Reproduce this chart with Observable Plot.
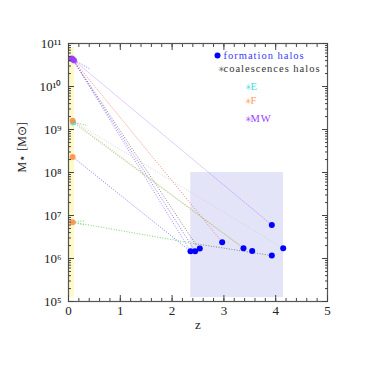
<!DOCTYPE html>
<html><head><meta charset="utf-8">
<script src="https://cdn.jsdelivr.net/npm/d3@7"></script>
<script src="https://cdn.jsdelivr.net/npm/@observablehq/plot@0.6"></script>
<style>
body{margin:0;background:#fff}
#chart{position:relative;width:369px;height:369px}
#chart svg text{font-family:"Liberation Serif",serif}
</style>
</head><body><div id="chart"></div>
<script>
// formation halos (high z)
const formZ = [2.355, 2.445, 2.535, 2.967, 3.378, 3.546, 3.925, 3.925, 4.145];
const formM = [1.48e6, 1.48e6, 1.7e6, 2.4e6, 1.74e6, 1.5e6, 6.0e6, 1.17e6, 1.74e6];
// present-day hosts (low z)
const hostZ = [0.05, 0.07, 0.09, 0.11, 0.09, 0.08, 0.08, 0.08];
const hostM = [4.4e10, 4.5e10, 4.2e10, 4.0e10, 1.45e9, 1.6e9, 2.3e8, 7.0e6];
const hostKind = ["MW", "MW", "MW", "MW", "E", "F", "F", "F"];
// dotted connecting paths
const segZ1 = [0.08, 0.08, 0.08, 0.08, 0.08, 0.08, 0.09, 0.08, 0.08, 0.08, 2.45, 2.45, 0.08, 0.08, 0.08, 0.08];
const segM1 = [4.3e10, 4.3e10, 4.3e10, 4.3e10, 4.3e10, 1.6e9, 1.45e9, 1.6e9, 2.3e8, 7.0e6, 2.2e6, 2.2e6, 7.0e6, 7.0e6, 1.5e9, 4.3e10];
const segZ2 = [3.925, 2.967, 2.45, 2.355, 2.445, 3.378, 3.378, 4.145, 2.355, 2.45, 3.925, 2.535, 0.32, 0.30, 0.35, 0.4];
const segM2 = [6.0e6, 2.4e6, 2.2e6, 1.48e6, 1.48e6, 1.74e6, 1.74e6, 1.74e6, 1.48e6, 2.2e6, 1.17e6, 1.7e6, 7.6e6, 6.0e6, 1.25e9, 2.6e10];
const segKind = ["purple", "red", "gray", "purple", "violet", "orange", "green", "light", "blue", "green", "gray", "gray", "green", "green", "green", "violet"];
// shaded regions
const stripZ = [0, 0.115];
const stripM = [1.23e5, 8e10];
const boxZ = [2.36, 4.15];
const boxM = [1.23e5, 1e8];
// axes
const xMajor = [0, 1, 2, 3, 4, 5];
const xMinor = d3.range(0, 5.001, 0.2);
const yMajor = [1e5, 1e6, 1e7, 1e8, 1e9, 1e10, 1e11];
const sup = {"5":"⁵","6":"⁶","7":"⁷","8":"⁸","9":"⁹","10":"¹⁰","11":"¹¹"};
const yMinor = [];
for (let e = 5; e < 11; e++) for (let k = 2; k <= 9; k++) yMinor.push(k * 10 ** e);
// legend entries
const legendText = ["formation halos", "coalescences halos", "E", "F", "MW"];
const legendSym = ["dot", "star", "star", "star", "star"];
const legendKind = ["form", "coal", "E", "F", "MW"];

const lineColor = {purple:"#a070ff", violet:"#8a5cf0", red:"#ff6a6a", gray:"#777777", orange:"#ffaa70", green:"#66d066", light:"#cfcfcf", blue:"#6a6aff"};
const hostColor = {MW:"#9b3cff", E:"#3fe0e0", F:"#ff8a3d"};
const legendColor = {form:"#3a3aff", coal:"#333333", E:"#3fe0e0", F:"#ff9a5a", MW:"#9b3cff"};
const legendSymColor = {form:"#0000ff", coal:"#555555", E:"#3fe0e0", F:"#ff9a5a", MW:"#9b3cff"};
const legendPos = [[149, 12], [149, 25], [176, 43], [176, 57], [176, 75]];

const segs = segZ1.map((z, i) => ({z1: z, m1: segM1[i], z2: segZ2[i], m2: segM2[i], kind: segKind[i]}));
const forms = formZ.map((z, i) => ({z, m: formM[i]}));
const hosts = hostZ.map((z, i) => ({z, m: hostM[i], kind: hostKind[i]}));

const legendMarks = legendText.flatMap((t, i) => {
  const [dx, dy] = legendPos[i];
  const k = legendKind[i];
  return [
    legendSym[i] === "dot"
      ? Plot.dot([t], {frameAnchor: "top-left", dx, dy, r: 3, fill: legendSymColor[k]})
      : Plot.text([t], {frameAnchor: "top-left", dx, dy: dy + 0.5, text: () => "✳", fontSize: 8, lineAnchor: "middle", fill: legendSymColor[k]}),
    Plot.text([t], {frameAnchor: "top-left", dx: dx + 6, dy, text: d => d, fill: legendColor[k], textAnchor: "start", lineAnchor: "middle", fontSize: 10.5})
  ];
});

const tickAxis = (mk, data, anchor, size) => mk(data, {anchor, tickSize: size, fill: "none", stroke: "#444", label: null});

const chart = Plot.plot({
  width: 369, height: 369,
  marginLeft: 68, marginRight: 42, marginTop: 43, marginBottom: 68,
  style: {fontFamily: "Liberation Serif", background: "#fff"},
  x: {domain: [0, 5]},
  y: {type: "log", domain: [1e5, 1e11]},
  marks: [
    Plot.rect([0], {x1: () => stripZ[0], x2: () => stripZ[1], y1: () => stripM[0], y2: () => stripM[1], fill: "#fff9c8"}),
    Plot.rect([0], {x1: () => boxZ[0], x2: () => boxZ[1], y1: () => boxM[0], y2: () => boxM[1], fill: "#e4e4f8"}),
    Plot.link(segs, {x1: "z1", y1: "m1", x2: "z2", y2: "m2", stroke: d => lineColor[d.kind], strokeWidth: 0.9, strokeDasharray: "1,1.6"}),
    Plot.dot(forms, {x: "z", y: "m", r: 3, fill: "#0000ff"}),
    Plot.dot(hosts, {x: "z", y: "m", r: 3, fill: d => hostColor[d.kind], fillOpacity: 0.85}),
    Plot.frame({stroke: "#555", strokeWidth: 1.2}),
    tickAxis(Plot.axisX, xMajor, "bottom", -6),
    tickAxis(Plot.axisX, xMinor, "bottom", -3),
    tickAxis(Plot.axisX, xMajor, "top", -6),
    tickAxis(Plot.axisX, xMinor, "top", -3),
    tickAxis(Plot.axisY, yMajor, "left", -6),
    tickAxis(Plot.axisY, yMinor, "left", -3),
    tickAxis(Plot.axisY, yMajor, "right", -6),
    tickAxis(Plot.axisY, yMinor, "right", -3),
    Plot.axisX(xMajor, {anchor: "bottom", tickSize: 0, tickPadding: 4, fontSize: 13, fill: "#222", label: null}),
    Plot.axisY(yMajor, {anchor: "left", tickSize: 0, tickPadding: 7, fontSize: 13, fill: "#222", label: null,
      tickFormat: d => "10" + sup[String(Math.round(Math.log10(d)))]}),
    Plot.text(["z"], {frameAnchor: "bottom", dy: 27, fontSize: 13, fill: "#222"}),
    Plot.text(["M⋆ [M⊙]"], {frameAnchor: "left", dx: -46, rotate: -90, fontSize: 12, fill: "#222"}),
    ...legendMarks
  ]
});
chart.querySelectorAll('text').forEach(t => {
  if (legendText.includes(t.textContent)) t.setAttribute("letter-spacing", "1");
});
document.getElementById("chart").appendChild(chart);
</script>
</body></html>
